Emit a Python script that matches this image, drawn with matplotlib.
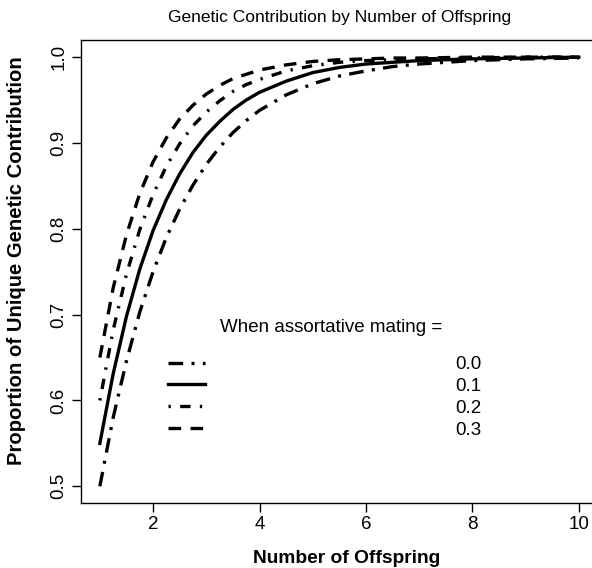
import matplotlib
matplotlib.use("Agg")
import matplotlib.pyplot as plt

plt.rcParams['font.family'] = ['Liberation Sans', 'DejaVu Sans']

# Datos
offspring = [1, 1.25, 1.5, 1.75, 2, 2.25, 2.5, 2.75, 3, 3.25, 3.5, 3.75,
             4, 4.5, 5, 5.5, 6, 6.5, 7, 8, 9, 10]

contrib_00 = [0.500, 0.580, 0.646, 0.703, 0.750, 0.790, 0.823, 0.851, 0.875, 0.895, 0.912,
              0.926, 0.938, 0.956, 0.969, 0.978, 0.984, 0.989, 0.992, 0.996, 0.998, 0.999]
contrib_01 = [0.550, 0.631, 0.698, 0.753, 0.798, 0.834, 0.864, 0.889, 0.909, 0.925, 0.939,
              0.950, 0.959, 0.972, 0.982, 0.988, 0.992, 0.994, 0.996, 0.998, 0.999, 1.000]
contrib_02 = [0.600, 0.682, 0.747, 0.799, 0.840, 0.873, 0.899, 0.920, 0.936, 0.949, 0.960,
              0.968, 0.974, 0.984, 0.990, 0.994, 0.996, 0.997, 0.998, 0.999, 1.000, 1.000]
contrib_03 = [0.650, 0.731, 0.793, 0.841, 0.878, 0.906, 0.928, 0.944, 0.957, 0.967, 0.975,
              0.980, 0.985, 0.991, 0.995, 0.997, 0.998, 0.999, 0.999, 1.000, 1.000, 1.000]

labels = ["0.0", "0.1", "0.2", "0.3"]

fig = plt.figure(figsize=(5.92, 5.68), dpi=100)
ax = fig.add_axes([0.1363, 0.1136, 0.8738, 0.8160])

lw = 2.4
l0, = ax.plot(offspring, contrib_00, color="black", lw=lw, dashes=(4.4, 2.5, 0.9, 2.5))
l1, = ax.plot(offspring, contrib_01, color="black", lw=lw)
l2, = ax.plot(offspring, contrib_02, color="black", lw=lw, dashes=(0.7, 2.8, 3.1, 2.8))
l3, = ax.plot(offspring, contrib_03, color="black", lw=lw, dashes=(3.8, 2.8))

ax.set_xlim(0.64, 10.36)
ax.set_ylim(0.48, 1.02)
ax.set_xticks([2, 4, 6, 8, 10])
ax.set_yticks([0.5, 0.6, 0.7, 0.8, 0.9, 1.0])
ax.set_yticklabels(["0.5", "0.6", "0.7", "0.8", "0.9", "1.0"], rotation=90, va="center")
ax.tick_params(axis="both", direction="out", length=6.5, width=1, labelsize=13.5)
ax.tick_params(axis="x", pad=2.5)
ax.tick_params(axis="y", pad=3)
for s in ax.spines.values():
    s.set_linewidth(1)

ax.set_xlabel("Number of Offspring", fontsize=13.8, fontweight="bold")
ax.set_ylabel("Proportion of Unique Genetic Contribution", fontsize=14.6, fontweight="bold")
ax.xaxis.set_label_coords(0.514, -0.101)
ax.yaxis.set_label_coords(-0.1057, 0.525)
ax.set_title("Genetic Contribution by Number of Offspring", fontsize=12.5, pad=13)

ax.legend([l0, l1, l2, l3], labels, loc="upper left", bbox_to_anchor=(0.1688, 0.318),
          frameon=False, fontsize=13.5, handlelength=1.97, handletextpad=13.33,
          labelspacing=0.25, borderpad=0, borderaxespad=0)
ax.text(0.4838, 0.3786, "When assortative mating =", transform=ax.transAxes,
        ha="center", va="center", fontsize=13.5)

plt.savefig("out.png", dpi=100)
